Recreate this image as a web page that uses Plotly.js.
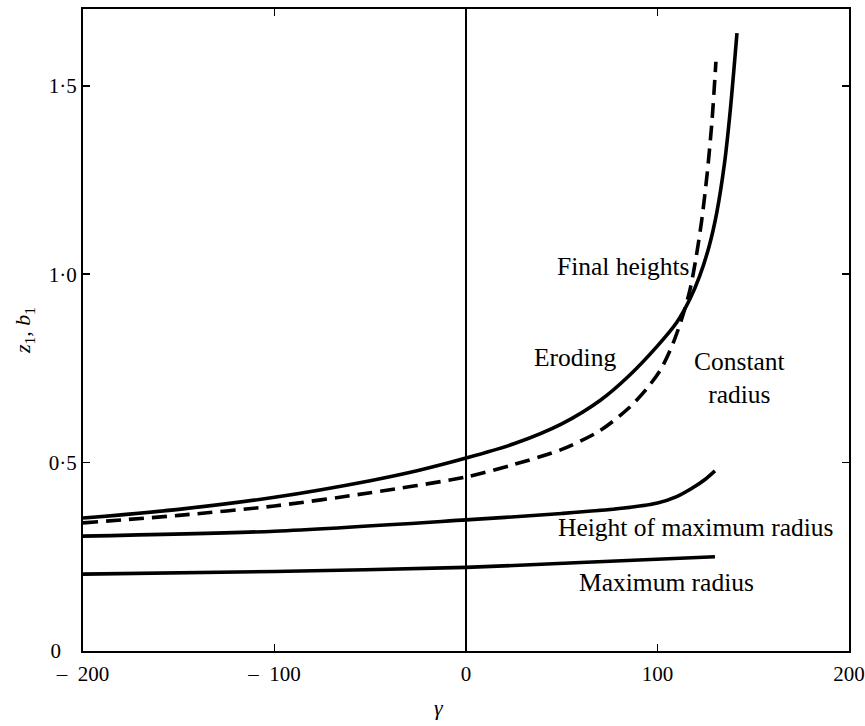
<!DOCTYPE html>
<html>
<head>
<meta charset="utf-8">
<script src="https://cdn.plot.ly/plotly-3.0.1.min.js"></script>
<style>html,body{margin:0;padding:0;background:#fff;}#chart{width:865px;height:726px;}</style>
</head>
<body>
<div id="chart"></div>
<script>
// Final heights, eroding (solid)
const erodingX = [-200,-150,-100,-50,-25,0,25,50,70,85,100,110,117,122,127,131,135,138,141.5];
const erodingY = [0.353,0.376,0.408,0.452,0.479,0.512,0.55,0.603,0.665,0.73,0.81,0.872,0.935,0.995,1.075,1.165,1.295,1.435,1.64];
// Final heights, constant radius (dashed)
const constX = [-200,-150,-100,-50,0,25,50,70,85,95,102,108,113,117,120,123,126,128.5,130.5];
const constY = [0.34,0.36,0.385,0.42,0.462,0.495,0.535,0.585,0.645,0.70,0.75,0.815,0.887,0.96,1.04,1.14,1.27,1.41,1.564];
// Height of maximum radius
const hmaxX = [-200,-100,0,50,80,100,110,118,125,130];
const hmaxY = [0.305,0.318,0.348,0.365,0.378,0.393,0.41,0.432,0.456,0.478];
// Maximum radius
const rmaxX = [-200,-100,0,60,130];
const rmaxY = [0.204,0.211,0.222,0.235,0.25];

const xTickVals = [-200,-100,0,100,200];
const xTickText = ['\u2013\u2002200','\u2013\u2002100','0','100','200'];
const yTickVals = [0,0.5,1.0,1.5];
const yTickText = ['0\u2008\u2007','0\u00b75','1\u00b70','1\u00b75'];

const labels = [
  {text:'Final heights', x:82, y:1.02},
  {text:'Eroding', x:57, y:0.78},
  {text:'Constant<br>radius', x:143, y:0.725},
  {text:'Height of maximum radius', x:120, y:0.327},
  {text:'Maximum radius', x:104.5, y:0.183}
];
const xTitle = {text:'<i>\u03b3</i>', x:-14};

const FONT = '"Liberation Serif", "DejaVu Serif", serif';
const lineStyle = {color:'#000', width:3.6, shape:'spline', smoothing:0.8};

const traces = [
  {x:erodingX, y:erodingY, mode:'lines', line:lineStyle, hoverinfo:'skip'},
  {x:constX, y:constY, mode:'lines', line:Object.assign({}, lineStyle, {dash:'15px,8px'}), hoverinfo:'skip'},
  {x:hmaxX, y:hmaxY, mode:'lines', line:lineStyle, hoverinfo:'skip'},
  {x:rmaxX, y:rmaxY, mode:'lines', line:lineStyle, hoverinfo:'skip'}
];

const annotations = labels.map(l => ({
  x:l.x, y:l.y, xref:'x', yref:'y', text:l.text, showarrow:false,
  font:{family:FONT, size:25.5, color:'#000'}, align:'center'
}));
annotations.push({
  x:xTitle.x, xref:'x', y:-0.088, yref:'paper', yanchor:'middle',
  text:xTitle.text, showarrow:false, font:{family:FONT, size:22, color:'#000'}
});

const layout = {
  width:865, height:726,
  margin:{l:83, r:16, t:9, b:75},
  paper_bgcolor:'#fff', plot_bgcolor:'#fff',
  showlegend:false,
  font:{family:FONT, color:'#000', size:21},
  xaxis:{
    range:[-200,200], tickvals:xTickVals, ticktext:xTickText,
    ticks:'inside', ticklen:7, tickwidth:1.5, tickcolor:'#000',
    showline:true, linecolor:'#000', linewidth:2, mirror:'ticks',
    showgrid:false, zeroline:true, zerolinecolor:'#000', zerolinewidth:1.2,
    tickfont:{family:FONT, size:21}, ticklabelstandoff:3
  },
  yaxis:{
    range:[0,1.704], tickvals:yTickVals, ticktext:yTickText,
    ticks:'inside', ticklen:7, tickwidth:1.5, tickcolor:'#000',
    showline:true, linecolor:'#000', linewidth:2, mirror:'ticks',
    showgrid:false, zeroline:false,
    tickfont:{family:FONT, size:21},
    title:{text:'<i>z</i><sub>1</sub>, <i>b</i><sub>1</sub>', font:{family:FONT, size:22}, standoff:12}
  },
  annotations: annotations
};

Plotly.newPlot('chart', traces, layout, {displayModeBar:false, staticPlot:true});
</script>
</body>
</html>
